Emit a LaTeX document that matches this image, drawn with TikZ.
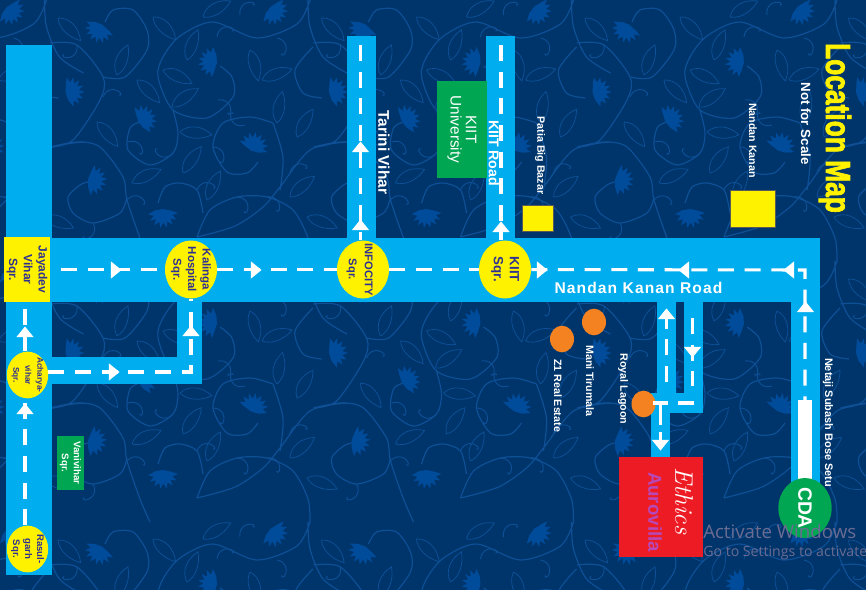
\documentclass[tikz,border=0pt]{standalone}
\usepackage{fontspec}
\setsansfont{Liberation Sans}
\newfontfamily\roadfont[LetterSpace=7]{Liberation Sans}
\newfontfamily\winfont{Open Sans}
\newfontfamily\titlefont[UprightFont={* Bold},FakeBold=2.5]{Liberation Sans}
\usetikzlibrary{shapes.geometric}
\definecolor{mapblue}{HTML}{00356B}
\definecolor{vineblue}{HTML}{0E4F95}
\definecolor{bloomblue}{HTML}{004C9A}
\definecolor{roadblue}{HTML}{00AEEF}
\definecolor{signyellow}{HTML}{FFF200}
\definecolor{signgreen}{HTML}{00A651}
\definecolor{signink}{HTML}{2E3192}
\definecolor{plotorange}{HTML}{F58220}
\definecolor{ethicsred}{HTML}{ED1C24}
\definecolor{aurovillaink}{HTML}{B848B8}
\tikzset{
    road/.style={fill=roadblue},
    track/.style={draw=white, line width=2.3pt, dash pattern=on 12pt off 8pt},
    roadtip/.style={isosceles triangle, isosceles triangle stretches, fill=white, inner sep=0pt,
        minimum height=8pt, minimum width=13pt, shape border rotate=0},
    yellowsqr/.style n args={2}{ellipse, fill=signyellow, text=signink, inner sep=-8pt, rotate=-90, align=center,
        font=\sffamily\bfseries\fontsize{#1}{#2}\selectfont},
    yellowbox/.style={rectangle, fill=signyellow, draw=black!65, line width=.5pt, inner sep=0pt},
    greenbox/.style={rectangle, fill=signgreen, text=white, inner sep=0pt, rotate=-90, align=center},
    plotspot/.style={ellipse, fill=plotorange, inner sep=0pt, minimum width=20pt, minimum height=18pt, rotate=-90},
    mapnote/.style={rotate=-90, text=white, inner sep=0pt, font=\sffamily\bfseries\fontsize{#1}{#1}\selectfont},
    bloom/.pic={\fill[bloomblue] (-4,0) \foreach \t in {-95,-70,...,80} { -- ({\t-12}:9.5) -- (\t:15) } -- (105:8) -- cycle;},
    leaf/.pic={\draw[vineblue, line width=.6pt] (0,0) .. controls (8,-9) and (22,-8) .. (32,0) .. controls (22,6) and (8,7) .. (0,0);},
    curl/.pic={\draw[vineblue, line width=.7pt] (0,0) .. controls (4,-7) and (13,-8) .. (18,-1) (18,-1) .. controls (19,1) and (17,2) .. (16,1);},
    maptile/.pic={
        \draw[vineblue, line width=.9pt]
            plot[smooth] coordinates {(310,0) (297,24) (257,38) (213,22) (180,36) (163,57) (158,77) (173,110) (207,118) (233,97) (232,77) (220,66)}
            plot[smooth] coordinates {(173,110) (178,133) (173,153) (150,165) (128,150) (130,128) (140,122)}
            plot[smooth] coordinates {(50,43) (77,45) (103,77) (100,100) (73,140) (50,147)}
            plot[smooth] coordinates {(103,77) (125,77) (147,50) (147,30) (133,10) (113,10) (105,22)}
            plot[smooth] coordinates {(347,142) (310,150) (280,187) (263,207) (235,226) (197,237)}
            plot[smooth] coordinates {(273,123) (283,157) (280,190)}
            plot[smooth] coordinates {(273,123) (250,117) (223,123) (213,147) (227,172) (247,173) (258,162)}
            plot[smooth] coordinates {(197,237) (210,210) (237,197) (267,197) (293,210) (308,238) (310,261)}
            plot[smooth] coordinates {(203,213) (197,190) (180,183) (165,187) (158,203)}
            plot[smooth] coordinates {(50,147) (77,142) (100,147) (123,177) (127,200) (140,238) (150,261)}
            plot[smooth] coordinates {(127,197) (120,213) (93,223) (73,213) (68,197) (80,185) (88,182)}
            plot[smooth] coordinates {(313,47) (295,70) (303,93) (322,98)}
            plot[smooth] coordinates {(308,0) (310,27) (323,57) (347,73)};
        \foreach \x/\y/\a in {213/62/170, 333/92/5, 142/120/25, 253/147/60, 92/180/-15, 163/213/-95, 273/10/-50, 100/28/-125}
            \pic[rotate=\a] at (\x,\y) {bloom};
        \foreach \x/\y/\a in {187/60/70, 117/75/70, 163/70/-25, 172/107/35, 277/123/80, 180/132/-5, 262/80/20, 250/50/-75,
            183/173/55, 207/200/65, 290/197/40, 297/137/60, 137/80/-45, 97/122/-50, 132/183/25, 58/18/-45, 203/17/30, 153/17/-45, 307/217/-20}
            \pic[rotate=\a] at (\x,\y) {leaf};
        \foreach \x/\y/\a in {103/97/10, 217/37/25, 240/15/40, 277/38/-70, 218/100/-50, 128/142/-40, 173/153/170, 245/125/140,
            213/147/-60, 290/173/20, 237/197/-60, 267/197/-50, 77/45/-140, 93/223/-120, 127/200/-10, 197/190/10}
            \pic[rotate=\a] at (\x,\y) {curl};
    }
}
\begin{document}
\begin{tikzpicture}[x=.75pt, y=-.75pt]
\useasboundingbox (0,0) rectangle (866,589);
\fill[mapblue] (-5,-5) rectangle (871,594);
\begin{scope}
    \clip (-2,-2) rectangle (868,591);
    \foreach \i in {-1,0,1,2,3}
        \foreach \j in {-1,0,1,2}
            \pic at ({\i*263.5},{\j*261}) {maptile};
\end{scope}

% roads
\fill[road] (6,45) rectangle (52,575);
\fill[road] (50,237.5) rectangle (820,302);
\fill[road] (791,238) rectangle (820,490);
\fill[road] (347,36) rectangle (376,240);
\fill[road] (486,36) rectangle (515,240);
\fill[road] (177,300) rectangle (202,384);
\fill[road] (50,357) rectangle (202,384);
\fill[road] (657,300) rectangle (676,400);
\fill[road] (684,300) rectangle (703,413);
\fill[road] (651,393) rectangle (703,413);
\fill[road] (651,400) rectangle (670,458);
\fill[white] (798,400) rectangle (812,482);

% squares
\node[rectangle, fill=signyellow, text=signink, inner sep=0pt, rotate=-90, align=center,
    minimum width=48.75pt, minimum height=34.5pt, font=\sffamily\bfseries\fontsize{9}{11}\selectfont]
    (jayadev) at (27,269.5) {Jayadev\\Vihar\\Sqr.};
\node[yellowsqr={8.6}{11}, minimum width=43.5pt, minimum height=39pt] (kalinga) at (191,269.5) {Kalinga\\Hospital\\Sqr.};
\node[yellowsqr={8.4}{12}, minimum width=43.5pt, minimum height=39pt] (infocity) at (363,269.5) {\rule{0pt}{11pt}INFOCITY\\Sqr.};
\node[yellowsqr={10}{12}, minimum width=43.5pt, minimum height=39pt] (kiit) at (505,269.5) {KIIT\\Sqr.};
\node[yellowsqr={6.2}{9}, minimum width=35pt, minimum height=31pt] (acharya) at (27.5,375) {Acharya-\\vihar\\Sqr.};
\node[yellowsqr={7.2}{9}, minimum width=35pt, minimum height=31pt] (rasulgarh) at (27.5,549) {Rasul-\\garh\\Sqr.};
\node[greenbox, minimum width=40.5pt, minimum height=20pt, font=\sffamily\bfseries\fontsize{7.3}{9}\selectfont]
    (vanivihar) at (70.5,463) {Vanivihar\\Sqr.};
\node[greenbox, minimum width=72.75pt, minimum height=37.5pt, font=\sffamily\fontsize{11.5}{11.5}\selectfont]
    (kiituni) at (462,129.5) {KIIT\\University};
\node[yellowbox, minimum width=23.5pt, minimum height=19.5pt] (patia) at (537.5,218) {};
\node[yellowbox, minimum width=34pt, minimum height=28pt] (nandan) at (752.5,208.5) {};
\node[plotspot] (zone) at (562,339) {};
\node[plotspot] (mani) at (594,322) {};
\node[plotspot] (royal) at (643.5,404) {};
\node[rectangle, fill=ethicsred, inner sep=0pt, minimum width=63pt, minimum height=75pt] (ethics) at (661,507) {};
\node[ellipse, fill=signgreen, text=white, inner sep=-8pt, rotate=-90, minimum width=45pt, minimum height=40pt,
    font=\sffamily\bfseries\fontsize{14.5}{14.5}\selectfont] (cda) at (805,508) {CDA};

% tracks
\coordinate (lefttrack) at (25,0);
\coordinate (tarinitop) at (360.5,45);
\coordinate (kiittop) at (501,45);
\coordinate (kalingabend) at (191,372);
\coordinate (setucorner) at (805,270);
\coordinate (setuend) at (805,400);
\coordinate (royalup) at (666.5,382);
\coordinate (royalupend) at (666.5,318);
\coordinate (royaldown) at (692.5,318);
\coordinate (royaldownend) at (692.5,386);
\coordinate (royaljoin) at (694,403);
\coordinate (royalleft) at (653,403);
\coordinate (royalbend) at (660.5,403);
\coordinate (royalend) at (660.5,446);
\draw[track] (rasulgarh.west -| lefttrack) -- (acharya.east -| lefttrack);
\draw[track] (acharya.west -| lefttrack) -- (jayadev.east -| lefttrack);
\draw[track, shorten <=8pt] (jayadev) -- (kalinga);
\draw[track] (kalinga) -- (infocity);
\draw[track] (infocity) -- (kiit);
\draw[track] (kiit) -- (setucorner) -- (setuend);
\draw[track] (acharya.north |- kalingabend) -- (kalingabend) -- (kalinga);
\draw[track] (tarinitop) -- (tarinitop |- infocity.west);
\draw[track] (kiittop) -- (kiittop |- kiit.west);
\draw[track] (royalup) -- (royalupend);
\draw[track] (royaldown) -- (royaldownend);
\draw[track, dash pattern=on 16pt off 0pt] (royaljoin) -- (678,403);
\draw[track, dash pattern=on 16pt off 0pt] (royalleft) -- (668,403);
\draw[track, dash pattern=on 16pt off 0pt] (royalbend) -- (660.5,425);
\draw[track, line width=2pt, dash pattern=on 16pt off 0pt] (660.5,432) -- (royalend);

% arrow heads
\foreach \n/\x/\y/\a in {a/115/270/0, b/255/270/0, c/541/270/0, d/685/270/180, e/790/270/180,
    f/25/333/90, g/25/410/90, h/191/332/90, j/113/372/0, k/360.5/148/90, l/360.5/226/90,
    m/501/228/90, n/805.5/308/90, o/666.5/315/90, p/692.5/351/-90, q/660.5/444/-90}
    \node[roadtip, rotate=\a] (tip\n) at (\x,\y) {};

% labels
\node[mapnote=10.6] (kiitroad) at (494,153) {KIIT Road};
\node[mapnote=11.6] (tarini) at (384,152.5) {Tarini Vihar};
\node[mapnote=8] (patianame) at (540,155.5) {Patia Big Bazar};
\node[mapnote=8] (nandanname) at (753,140.5) {Nandan Kanan};
\node[mapnote=10] (scale) at (806,123.5) {Not for Scale};
\node[rotate=-90, text=signyellow, inner sep=0pt, font=\titlefont\fontsize{26}{26}\selectfont]
    (title) at (835,128) {\scalebox{.76}[1]{Location Map}};
\node[mapnote=8.2] (setu) at (828,422.5) {Netaji Subash Bose Setu};
\node[mapnote=8] (zonename) at (558,395.5) {Z1 Real Estate};
\node[mapnote=8] (maniname) at (590,381) {Mani Tirumala};
\node[mapnote=8] (royalname) at (623,389) {Royal Lagoon};
\node[text=white, inner sep=0pt, font=\sffamily\bfseries\fontsize{11.7}{11.7}\selectfont\roadfont]
    (roadname) at (638.5,288) {Nandan Kanan Road};
\node[rotate=-90, text=white, inner sep=0pt, font=\rmfamily\itshape\fontsize{19}{19}\selectfont]
    (ethicsname) at (684,501) {Ethics};
\node[rotate=-90, text=aurovillaink, inner sep=0pt, font=\sffamily\bfseries\fontsize{14}{14}\selectfont]
    (aurovilla) at (655,512) {Aurovilla};
\node[anchor=west, text=gray!85!blue, inner sep=0pt, font=\winfont\fontsize{14}{14}\selectfont]
    (activate) at (703,531) {Activate Windows};
\node[anchor=west, text=gray!85!blue, inner sep=0pt, font=\winfont\fontsize{10.6}{10.6}\selectfont]
    (settings) at (703,553) {Go to Settings to activate};
\end{tikzpicture}
\end{document}
